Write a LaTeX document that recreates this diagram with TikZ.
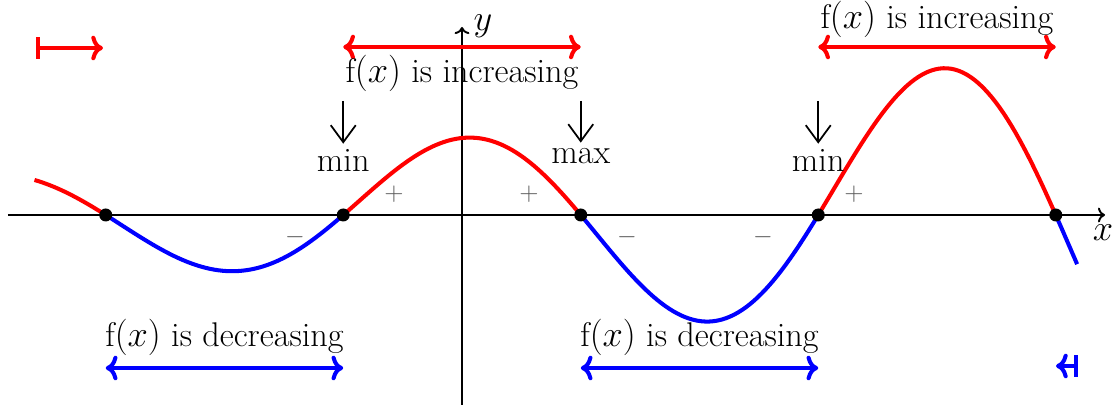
\documentclass[tikz,border=0pt]{standalone}
\usepackage{tikz}
\usetikzlibrary{arrows.meta}
\tikzset{
  axis/.style={line width=1.1pt, draw=black, ->},
  risepart/.style={line width=2.3pt, draw=red},
  fallpart/.style={line width=2.3pt, draw=blue},
  rootdot/.style={circle, fill=black, inner sep=0pt, minimum size=0.26cm},
  signlabel/.style={font=\Large, text=black!65},
  turnlabel/.style={anchor=base},
  pointer/.style={line width=1pt, draw=black, -{Straight Barb[length=0.34cm, width=0.5cm]}},
  uprange/.style={line width=2.3pt, draw=red, <->},
  downrange/.style={line width=2.3pt, draw=blue, <->},
}

\begin{document}
\begin{tikzpicture}[font=\fontsize{19.5}{23}\selectfont,
  declare function={wave(\u)=1.54*exp(0.32*\u)*cos(180*\u);}]
\useasboundingbox (-9.24,-3.82) rectangle (13.08,4.30);
% axes
\coordinate (xstart) at (-9.08,0);
\coordinate (xend) at (12.86,0);
\coordinate (ystart) at (0,-3.80);
\coordinate (yend) at (0,3.76);
\draw[axis] (xstart) -- (xend);
\draw[axis] (ystart) -- (yend);
\node (xlab) at (12.82,-0.36) {$x$};
\node (ylab) at (0.42,3.78) {$y$};
% the curve
\draw[risepart] plot[domain=-1.8:-1.5, samples=20] ({4.75*\x},{wave(\x)});
\draw[fallpart] plot[domain=-1.5:-0.5, samples=60] ({4.75*\x},{wave(\x)});
\draw[risepart] plot[domain=-0.5:0.5, samples=60] ({4.75*\x},{wave(\x)});
\draw[fallpart] plot[domain=0.5:1.5, samples=60] ({4.75*\x},{wave(\x)});
\draw[risepart] plot[domain=1.5:2.5, samples=60] ({4.75*\x},{wave(\x)});
\draw[fallpart] plot[domain=2.5:2.59, samples=10] ({4.75*\x},{wave(\x)});
% roots
\node[rootdot] (z1) at (-7.125,0) {};
\node[rootdot] (z2) at (-2.375,0) {};
\node[rootdot] (z3) at (2.375,0) {};
\node[rootdot] (z4) at (7.125,0) {};
\node[rootdot] (z5) at (11.875,0) {};
% signs
\node[signlabel] (s1) at (-3.34,-0.44) {$-$};
\node[signlabel] (s2) at (-1.36,0.42) {$+$};
\node[signlabel] (s3) at (1.34,0.42) {$+$};
\node[signlabel] (s4) at (3.30,-0.44) {$-$};
\node[signlabel] (s5) at (6.02,-0.44) {$-$};
\node[signlabel] (s6) at (7.84,0.42) {$+$};
% turning points
\node[turnlabel] (min1) at (-2.375,0.86) {min};
\node[turnlabel] (max1) at (2.375,1.02) {max};
\node[turnlabel] (min2) at (7.125,0.86) {min};
\coordinate (p1) at (-2.375,2.28);
\coordinate (p2) at (2.375,2.28);
\coordinate (p3) at (7.125,2.28);
\draw[pointer] (p1) -- (min1.north);
\draw[pointer] (p2) -- (max1.north);
\draw[pointer] (p3) -- (min2.north);
% ranges
\coordinate (uprow) at (0,3.36);
\coordinate (downrow) at (0,-3.06);
\draw[uprange] (z2 |- uprow) -- (z3 |- uprow);
\draw[uprange] (z4 |- uprow) -- (z5 |- uprow);
\draw[downrange] (z1 |- downrow) -- (z2 |- downrow);
\draw[downrange] (z3 |- downrow) -- (z4 |- downrow);
\node[anchor=base] (inc1) at (0,2.64) {f$(x)$ is increasing};
\node[anchor=base] (inc2) at (9.5,3.72) {f$(x)$ is increasing};
\node[anchor=base] (dec1) at (-4.75,-2.64) {f$(x)$ is decreasing};
\node[anchor=base] (dec2) at (4.75,-2.64) {f$(x)$ is decreasing};
% stubs at the ends
\coordinate (lbar) at (-8.52,3.34);
\coordinate (ltip) at (-7.18,3.34);
\coordinate (rbar) at (12.32,-3.02);
\coordinate (rtip) at (11.88,-3.02);
\draw[line width=2.3pt, draw=red, |->] (lbar) -- (ltip);
\draw[line width=2.3pt, draw=blue, |->] (rbar) -- (rtip);
\end{tikzpicture}
\end{document}
